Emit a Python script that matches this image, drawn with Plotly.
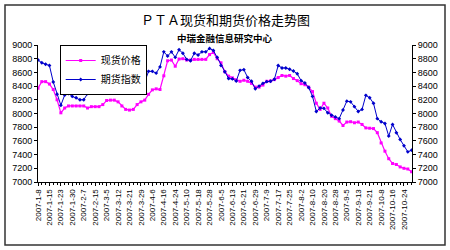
import plotly.graph_objects as go

# Tick labels (one every 3 points)
tick_labels = ["2007-1-8", "2007-1-15", "2007-1-23", "2007-1-30", "2007-2-7", "2007-2-15",
               "2007-3-5", "2007-3-12", "2007-3-21", "2007-3-29", "2007-4-6", "2007-4-16",
               "2007-4-24", "2007-5-10", "2007-5-18", "2007-5-28", "2007-6-5", "2007-6-13",
               "2007-6-21", "2007-6-29", "2007-7-9", "2007-7-17", "2007-7-25", "2007-8-2",
               "2007-8-10", "2007-8-20", "2007-8-28", "2007-9-5", "2007-9-13", "2007-9-21",
               "2007-10-8", "2007-10-16", "2007-10-24"]

# 现货价格 (spot price)
spot = [8370, 8465, 8465, 8430, 8350, 8200, 8010, 8080, 8110, 8110,
        8110, 8110, 8110, 8080, 8100, 8100, 8100, 8130, 8190, 8195,
        8195, 8170, 8110, 8060, 8050, 8060, 8130, 8170, 8195, 8280,
        8345, 8360, 8350, 8550, 8770, 8780, 8690, 8795, 8800, 8780,
        8780, 8790, 8790, 8790, 8790, 8860, 8890, 8800, 8740, 8610,
        8545, 8520, 8490, 8470, 8485, 8470, 8440, 8385, 8385, 8415,
        8470, 8475, 8495, 8525, 8555, 8545, 8555, 8510, 8480, 8435,
        8420, 8385, 8320, 8150, 8060, 8150, 8080, 7960, 7925, 7890,
        7825, 7875, 7880, 7865, 7875, 7840, 7790, 7785, 7780, 7720,
        7570, 7450, 7340, 7270, 7255, 7220, 7200, 7190, 7150]

# 期货指数 (futures index)
futures = [8780, 8740, 8720, 8700, 8460, 8280, 8120, 8270, 8290, 8250,
           8230, 8200, 8200, 8290, 8420, 8430, 8420, 8450, 8515, 8470,
           8450, 8390, 8370, 8390, 8380, 8370, 8400, 8330, 8465, 8615,
           8615, 8590, 8680, 8900, 8840, 8900, 8820, 8930, 8880, 8790,
           8770, 8880, 8855, 8900, 8900, 8950, 8920, 8820, 8700, 8610,
           8510, 8505, 8475, 8630, 8640, 8525, 8470, 8360, 8400, 8440,
           8465, 8470, 8500, 8700, 8665, 8665, 8645, 8620, 8580, 8480,
           8445, 8380, 8250, 8030, 8080, 8075, 8010, 7975, 7950, 7925,
           8050, 8180, 8170, 8100, 8030, 8060, 8265, 8230, 8150, 7925,
           7880, 7855, 7670, 7840, 7720, 7620, 7530, 7440, 7465]

x = list(range(len(spot)))
tick_pos = [i * 3 for i in range(len(tick_labels))]

fig = go.Figure()
fig.add_trace(go.Scatter(
    x=x, y=spot, name="现货价格", mode="lines+markers",
    line=dict(color="#FF00FF", width=1.2),
    marker=dict(symbol="square", size=3, color="#FF00FF")))
fig.add_trace(go.Scatter(
    x=x, y=futures, name="期货指数", mode="lines+markers",
    line=dict(color="#0000CC", width=1),
    marker=dict(symbol="diamond", size=3, color="#0000CC")))
fig.add_trace(go.Scatter(
    x=x, y=futures, yaxis="y2", mode="lines", showlegend=False,
    hoverinfo="skip", line=dict(color="rgba(0,0,0,0)", width=0)))

axis_font = dict(family="Liberation Sans, Arial, sans-serif", size=9, color="#000")
fig.update_layout(
    width=450, height=250,
    margin=dict(l=38, r=38, t=45, b=68),
    paper_bgcolor="white", plot_bgcolor="white",
    font=dict(family="Liberation Sans, Noto Sans CJK SC, sans-serif", color="#000"),
    xaxis=dict(range=[0, 98.1], tickmode="array", tickvals=tick_pos, ticktext=tick_labels,
               tickangle=-90, tickfont=dict(family="Liberation Sans, Arial, sans-serif", size=8),
               showline=True, linecolor="#000", linewidth=1, showgrid=False, zeroline=False,
               ticks="outside", ticklen=3, tickcolor="#000",
               minor=dict(tickmode="linear", tick0=0, dtick=1, ticks="outside", ticklen=2,
                          tickcolor="#000")),
    yaxis=dict(range=[7000, 9000], dtick=200, tickfont=axis_font, showline=True,
               linecolor="#000", linewidth=1, showgrid=False, zeroline=False,
               ticks="outside", ticklen=3, tickcolor="#000"),
    yaxis2=dict(range=[7000, 9000], dtick=200, tickfont=axis_font, overlaying="y",
                side="right", showline=True, linecolor="#000", linewidth=1,
                showgrid=False, zeroline=False, ticks="outside", ticklen=3, tickcolor="#000"),
    legend=dict(x=0.058, y=1.0, xanchor="left", yanchor="top",
                bgcolor="white", bordercolor="#000", borderwidth=1,
                font=dict(family="Noto Sans CJK SC, sans-serif", size=10),
                itemwidth=30, tracegroupgap=0),
    showlegend=True,
)

fig.add_annotation(text="ＰＴＡ现货和期货价格走势图", xref="paper", yref="paper",
                   x=0.5, y=(182 - 20) / 137, xanchor="center", yanchor="middle",
                   showarrow=False, font=dict(family="Noto Sans CJK SC", size=13, color="#000"))
fig.add_annotation(text="<b>中瑞金融信息研究中心</b>", xref="paper", yref="paper",
                   x=0.5, y=(182 - 37.5) / 137, xanchor="center", yanchor="middle",
                   showarrow=False, font=dict(family="Noto Sans CJK SC", size=9.5, color="#000"))

fig.add_shape(type="rect", xref="paper", yref="paper",
              x0=(5 - 38) / 374, x1=(445 - 38) / 374,
              y0=(182 - 245) / 137, y1=(182 - 5) / 137,
              line=dict(color="#333", width=1.5), fillcolor="rgba(0,0,0,0)", layer="below")

fig.write_html("out.html")
